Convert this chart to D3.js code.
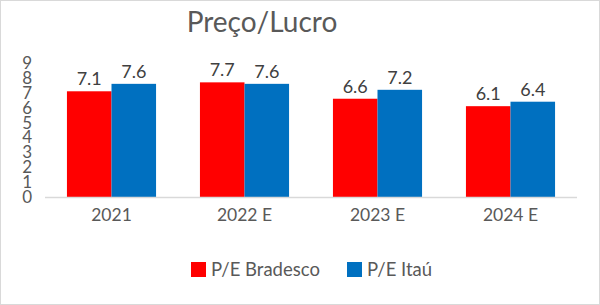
<!DOCTYPE html>
<html>
<head>
<meta charset="utf-8">
<script src="https://cdn.jsdelivr.net/npm/d3@7"></script>
<style>
  body { margin: 0; background: #fff; }
  svg { display: block; font-family: Lato, "Open Sans", sans-serif; }
</style>
</head>
<body>
<div id="chart"></div>
<script>
// Data
const categories = ["2021", "2022 E", "2023 E", "2024 E"];
const seriesNames = ["P/E Bradesco", "P/E Itaú"];
const bradesco = [7.1, 7.7, 6.6, 6.1];
const itau = [7.6, 7.6, 7.2, 6.4];
const yTicks = [0, 1, 2, 3, 4, 5, 6, 7, 8, 9];
const colors = ["#ff0000", "#0070c0"];

const W = 600, H = 305;
const margin = { top: 63, right: 23, bottom: 108, left: 45 };
const width = W - margin.left - margin.right;
const height = H - margin.top - margin.bottom;

const svg = d3.select("#chart").append("svg")
    .attr("width", W)
    .attr("height", H);

// outer border
svg.append("rect")
    .attr("x", 0.5).attr("y", 0.5)
    .attr("width", W - 1).attr("height", H - 1)
    .attr("fill", "#fff")
    .attr("stroke", "#d9d9d9");

// title
svg.append("text")
    .attr("x", 262).attr("y", 32)
    .attr("text-anchor", "middle")
    .attr("font-size", 28)
    .attr("fill", "#595959")
    .text("Preço/Lucro");

const g = svg.append("g").attr("transform", `translate(${margin.left},${margin.top})`);

const x0 = d3.scaleBand().domain(categories).range([0, width]).paddingInner(0.33).paddingOuter(0.165);
const x1 = d3.scaleBand().domain(seriesNames).range([0, x0.bandwidth()]);
const y = d3.scaleLinear().domain([0, 9]).range([height, 0]);

// y axis (labels sit tightly stacked like the original)
const yAxis = g.append("g")
    .call(d3.axisLeft(y).tickValues(yTicks).tickSize(0).tickPadding(13));
yAxis.select(".domain").remove();
yAxis.selectAll("text")
    .attr("font-family", "Lato, 'Open Sans', sans-serif")
    .attr("font-size", 17)
    .attr("fill", "#595959");

const rows = categories.map((c, i) => ({ cat: c, vals: [bradesco[i], itau[i]] }));

const groups = g.selectAll(".grp")
    .data(rows)
    .enter().append("g")
    .attr("transform", d => `translate(${x0(d.cat)},0)`);

groups.selectAll("rect")
    .data(d => d.vals.map((v, j) => ({ name: seriesNames[j], v: v, j: j })))
    .enter().append("rect")
    .attr("x", d => x1(d.name))
    .attr("y", d => y(d.v))
    .attr("width", x1.bandwidth())
    .attr("height", d => height - y(d.v))
    .attr("fill", d => colors[d.j]);

groups.selectAll(".lbl")
    .data(d => d.vals.map((v, j) => ({ name: seriesNames[j], v: v })))
    .enter().append("text")
    .attr("x", d => x1(d.name) + x1.bandwidth() / 2)
    .attr("y", d => y(d.v) - 6)
    .attr("text-anchor", "middle")
    .attr("font-size", 18)
    .attr("fill", "#404040")
    .text(d => d3.format(".1f")(d.v));

// baseline
g.append("line")
    .attr("x1", 0).attr("x2", width)
    .attr("y1", height + 0.5).attr("y2", height + 0.5)
    .attr("stroke", "#d9d9d9")
    .attr("stroke-width", 1.5);

// x axis labels
const xAxis = g.append("g")
    .attr("transform", `translate(0,${height})`)
    .call(d3.axisBottom(x0).tickSize(0).tickPadding(12));
xAxis.select(".domain").remove();
xAxis.selectAll("text")
    .attr("font-family", "Lato, 'Open Sans', sans-serif")
    .attr("font-size", 17.5)
    .attr("fill", "#595959");

// legend
const legendX = [191, 347];
const legend = svg.selectAll(".leg")
    .data(seriesNames)
    .enter().append("g")
    .attr("transform", (d, i) => `translate(${legendX[i]},262)`);
legend.append("rect")
    .attr("width", 15).attr("height", 15)
    .attr("fill", (d, i) => colors[i]);
legend.append("text")
    .attr("x", 20).attr("y", 8)
    .attr("dy", "0.35em")
    .attr("font-size", 18.5)
    .attr("fill", "#595959")
    .text(d => d);
</script>
</body>
</html>
